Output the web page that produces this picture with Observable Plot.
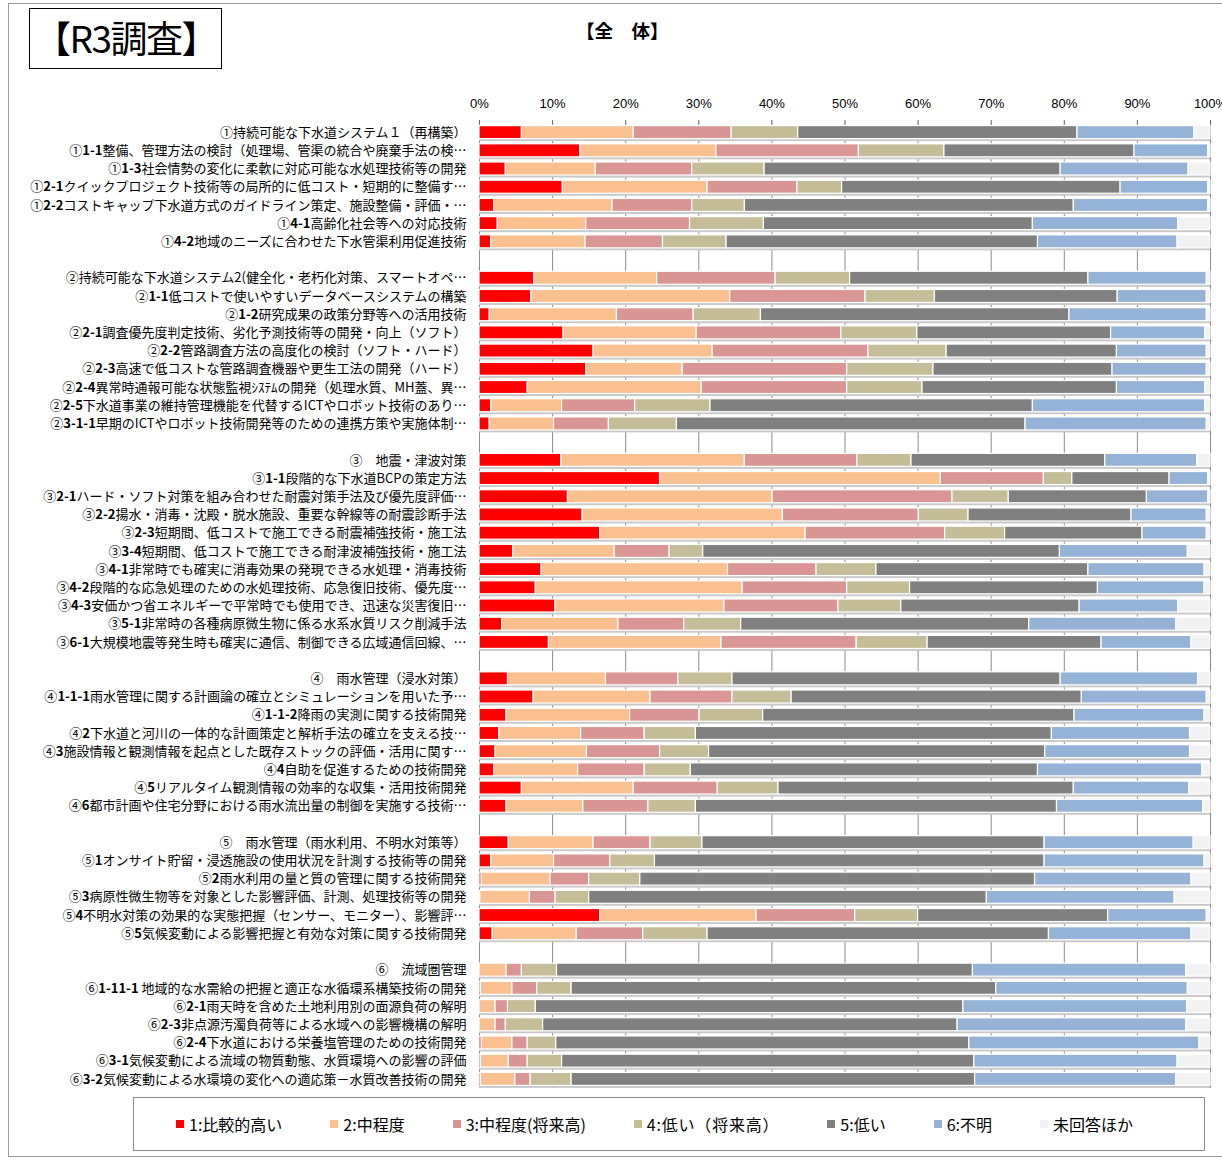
<!DOCTYPE html>
<html lang="ja">
<head>
<meta charset="utf-8">
<script src="https://cdn.jsdelivr.net/npm/d3@7"></script>
<script src="https://cdn.jsdelivr.net/npm/@observablehq/plot@0.6"></script>
<style>
  body { margin: 0; background: #fff; font-family: "Noto Sans CJK JP", sans-serif; color: #000; }
  #page { position: relative; width: 1222px; height: 1160px; overflow: hidden; background: #fff; }
  #frame { position: absolute; left: 8px; top: 3px; width: 1240px; height: 1154px; border: 1px solid #9a9a9a; box-sizing: border-box; }
  #badge { position: absolute; left: 29px; top: 8px; width: 193px; height: 61px; border: 1.5px solid #000; box-sizing: border-box;
           font-size: 37px; line-height: 57px; padding-left: 4px; letter-spacing: -1.5px; white-space: nowrap; }
  #title { position: absolute; left: 576px; top: 17px; font-weight: bold; font-size: 18.5px; }
  #chart { position: absolute; left: 0; top: 80px; }
  #chart svg { display: block; }
  #legend { position: absolute; left: 133px; top: 1097px; width: 1072px; height: 54px; border: 1px solid #8a8a8a; box-sizing: border-box;
            display: flex; align-items: center; padding-left: 42px; font-size: 16px; }
  #legend .item { display: flex; align-items: center; white-space: nowrap; margin-right: 48px; }
  #legend .item:nth-child(4) { letter-spacing: 0.8px; }
  #legend .sw { width: 8px; height: 8px; margin-right: 5px; }
</style>
</head>
<body>
<div id="page">
  <div id="frame"></div>
  <div id="badge">【R3調査】</div>
  <div id="title">【全　体】</div>
  <div id="chart"></div>
  <div id="legend"></div>
</div>
<script>
// Response categories and their colours
const categories = ["1:比較的高い", "2:中程度", "3:中程度(将来高)", "4:低い（将来高）", "5:低い", "6:不明", "未回答ほか"];
const palette = ["#ff0000", "#fac090", "#d99694", "#c4bd97", "#808080", "#95b3d7", "#f2f2f2"];

// Number of rows in each theme group (a blank row separates groups)
const groupSizes = [7, 9, 11, 8, 6, 7];

// Row labels, top to bottom
const rowLabels = [
  "①持続可能な下水道システム１（再構築）",
  "①1-1整備、管理方法の検討（処理場、管渠の統合や廃棄手法の検…",
  "①1-3社会情勢の変化に柔軟に対応可能な水処理技術等の開発",
  "①2-1クイックプロジェクト技術等の局所的に低コスト・短期的に整備す…",
  "①2-2コストキャップ下水道方式のガイドライン策定、施設整備・評価・…",
  "①4-1高齢化社会等への対応技術",
  "①4-2地域のニーズに合わせた下水管渠利用促進技術",
  "②持続可能な下水道システム2(健全化・老朽化対策、スマートオペ…",
  "②1-1低コストで使いやすいデータベースシステムの構築",
  "②1-2研究成果の政策分野等への活用技術",
  "②2-1調査優先度判定技術、劣化予測技術等の開発・向上（ソフト）",
  "②2-2管路調査方法の高度化の検討（ソフト・ハード）",
  "②2-3高速で低コストな管路調査機器や更生工法の開発（ハード）",
  "②2-4異常時通報可能な状態監視ｼｽﾃﾑの開発（処理水質、MH蓋、異…",
  "②2-5下水道事業の維持管理機能を代替するICTやロボット技術のあり…",
  "②3-1-1早期のICTやロボット技術開発等のための連携方策や実施体制…",
  "③　地震・津波対策",
  "③1-1段階的な下水道BCPの策定方法",
  "③2-1ハード・ソフト対策を組み合わせた耐震対策手法及び優先度評価…",
  "③2-2揚水・消毒・沈殿・脱水施設、重要な幹線等の耐震診断手法",
  "③2-3短期間、低コストで施工できる耐震補強技術・施工法",
  "③3-4短期間、低コストで施工できる耐津波補強技術・施工法",
  "③4-1非常時でも確実に消毒効果の発現できる水処理・消毒技術",
  "③4-2段階的な応急処理のための水処理技術、応急復旧技術、優先度…",
  "③4-3安価かつ省エネルギーで平常時でも使用でき、迅速な災害復旧…",
  "③5-1非常時の各種病原微生物に係る水系水質リスク削減手法",
  "③6-1大規模地震等発生時も確実に通信、制御できる広域通信回線、…",
  "④　雨水管理（浸水対策）",
  "④1-1-1雨水管理に関する計画論の確立とシミュレーションを用いた予…",
  "④1-1-2降雨の実測に関する技術開発",
  "④2下水道と河川の一体的な計画策定と解析手法の確立を支える技…",
  "④3施設情報と観測情報を起点とした既存ストックの評価・活用に関す…",
  "④4自助を促進するための技術開発",
  "④5リアルタイム観測情報の効率的な収集・活用技術開発",
  "④6都市計画や住宅分野における雨水流出量の制御を実施する技術…",
  "⑤　雨水管理（雨水利用、不明水対策等）",
  "⑤1オンサイト貯留・浸透施設の使用状況を計測する技術等の開発",
  "⑤2雨水利用の量と質の管理に関する技術開発",
  "⑤3病原性微生物等を対象とした影響評価、計測、処理技術等の開発",
  "⑤4不明水対策の効果的な実態把握（センサー、モニター）、影響評…",
  "⑤5気候変動による影響把握と有効な対策に関する技術開発",
  "⑥　流域圏管理",
  "⑥1-11-1 地域的な水需給の把握と適正な水循環系構築技術の開発",
  "⑥2-1雨天時を含めた土地利用別の面源負荷の解明",
  "⑥2-3非点源汚濁負荷等による水域への影響機構の解明",
  "⑥2-4下水道における栄養塩管理のための技術開発",
  "⑥3-1気候変動による流域の物質動態、水質環境への影響の評価",
  "⑥3-2気候変動による水環境の変化への適応策－水質改善技術の開発"
];

// Share of responses (%) per category, one value per row
const high = [5.8,13.8,3.6,11.4,2.0,2.5,1.6, 7.5,7.1,1.4,11.5,15.6,14.6,6.6,1.6,1.4, 11.2,24.7,12.1,14.1,16.5,4.6,8.5,7.7,10.4,3.1,9.5, 3.9,7.4,3.7,2.7,2.2,2.0,5.8,3.7, 4.0,1.6,0.3,0.1,16.5,1.8, 0,0.2,0,0,0.3,0.2,0.2];
const mid = [15.3,18.6,12.3,19.8,16.2,12.1,12.9, 16.8,27.2,17.4,18.2,16.3,13.2,23.8,9.7,8.8, 25.1,38.4,28.0,27.4,28.1,13.9,25.5,28.3,23.1,15.9,23.6, 13.4,16.0,16.9,11.2,12.5,11.5,15.3,10.5, 11.6,8.6,9.4,6.8,21.4,11.5, 3.7,4.3,2.2,2.2,4.2,3.8,4.7];
const midFuture = [13.4,19.5,13.2,12.3,10.9,14.2,10.6, 16.2,18.5,10.5,19.8,21.3,22.5,19.9,10.0,7.5, 15.4,14.1,24.6,18.6,19.1,7.5,12.1,14.3,15.6,9.0,18.5, 9.9,11.2,9.5,8.7,10.0,9.1,11.5,8.9, 7.8,7.7,5.3,3.5,13.5,9.1, 2.1,3.4,1.7,1.4,2.1,2.6,2.1];
const lowFuture = [9.1,11.7,9.9,6.1,7.2,10.1,8.7, 10.2,9.5,9.2,10.4,10.7,11.8,10.3,10.3,9.3, 7.4,3.9,7.7,6.8,8.2,4.6,8.2,8.6,8.6,7.8,9.7, 7.4,8.1,8.7,7.0,6.7,6.3,8.3,6.5, 7.1,6.1,7.0,4.6,8.6,8.8, 4.8,4.7,3.8,5.1,3.9,4.7,5.6];
const low = [38.2,26.0,40.5,38.1,45.0,36.8,42.6, 32.6,25.0,42.2,26.5,23.3,24.5,26.6,44.1,47.7, 26.5,13.3,18.9,22.3,18.8,48.8,29.0,25.7,24.4,39.4,23.8, 44.9,39.7,42.6,48.7,46.0,47.5,40.4,49.4, 46.8,53.3,54.0,54.4,26.0,46.7, 56.9,58.1,58.5,56.7,56.5,56.4,55.2];
const unknown = [16.0,10.1,17.5,12.0,18.4,19.9,19.1, 16.2,12.2,18.8,12.9,12.3,12.9,12.1,23.6,24.8, 12.6,5.3,8.4,10.3,8.8,17.5,15.9,14.6,13.5,20.1,12.3, 18.8,17.1,17.8,18.9,19.8,22.5,15.8,20.0, 20.4,21.9,21.4,25.7,13.5,19.5, 29.2,26.2,30.6,31.3,31.5,27.8,27.5];
const noAnswer = [2.2,0.3,3.0,0.3,0.3,4.4,4.5, 0.5,0.5,0.5,0.7,0.5,0.5,0.7,0.7,0.5, 1.8,0.3,0.3,0.5,0.5,3.1,0.8,0.8,4.4,4.7,2.6, 1.7,0.5,0.8,2.8,2.8,1.1,2.9,1.0, 2.3,0.8,2.6,4.9,0.5,2.6, 3.3,3.1,3.2,3.3,1.5,4.5,4.7];

// Tick values of the percentage axis
const xTicks = [0, 10, 20, 30, 40, 50, 60, 70, 80, 90, 100];

const series = [high, mid, midFuture, lowFuture, low, unknown, noAnswer];

// Band domain: row keys with one blank key between groups
const rowKeys = rowLabels.map((_, i) => "r" + i);
const domain = [];
let idx = 0;
groupSizes.forEach((n, g) => {
  for (let k = 0; k < n; k++) domain.push(rowKeys[idx++]);
  if (g < groupSizes.length - 1) domain.push("gap" + g);
});
const labelOf = Object.fromEntries(rowKeys.map((k, i) => [k, rowLabels[i]]));

// Long table for stacking
const table = [];
rowKeys.forEach((key, i) => {
  categories.forEach((cat, c) => table.push({key, cat, value: series[c][i]}));
});

const font = "'Noto Sans CJK JP', sans-serif";
const inset = 2.6;

const plot = Plot.plot({
  width: 1222,
  height: 1012,
  marginLeft: 479,
  marginRight: 12,
  marginTop: 43,
  marginBottom: 4,
  style: {fontFamily: font, color: "#000", background: "transparent"},
  x: {domain: [0, 100], axis: null},
  y: {domain, padding: 0, round: false, axis: null},
  color: {domain: categories, range: palette},
  marks: [
    Plot.ruleX(xTicks, {stroke: "#8c8c8c", strokeWidth: 1}),
    // soft drop shadow under each bar
    Plot.barX(rowKeys, {x1: 0, x2: 100, y: d => d, fill: "#c9c9c9", dy: 2.5, insetTop: inset, insetBottom: inset}),
    Plot.barX(table, Plot.stackX({
      x: "value", y: "key", fill: "cat",
      stroke: "white", strokeWidth: 1.2,
      insetTop: inset, insetBottom: inset
    })),
    Plot.axisX(xTicks, {
      anchor: "top", tickSize: 4, tickPadding: 12, label: null,
      tickFormat: d => d + "%", stroke: "#666",
      fontSize: 13, fontFamily: "'Liberation Sans Narrow', 'Liberation Sans', sans-serif"
    }),
    Plot.axisY({
      tickSize: 0, tickPadding: 13, label: null,
      tickFormat: k => labelOf[k] ?? "",
      fontSize: 13, fontFamily: font
    })
  ]
});

// Item numbers in the row labels are set in bold
d3.select(plot).selectAll('g[aria-label="y-axis tick label"] text').each(function () {
  const s = this.textContent;
  const m = s.match(/^([①-⑥])([0-9][0-9\-]*)(.*)$/);
  if (!m) return;
  const t = d3.select(this);
  t.text("");
  t.append("tspan").text(m[1]);
  t.append("tspan").attr("font-weight", "bold").text(m[2]);
  t.append("tspan").text(m[3]);
});

document.getElementById("chart").append(plot);

// Legend
const legend = d3.select("#legend");
categories.forEach((cat, c) => {
  const item = legend.append("div").attr("class", "item");
  item.append("div").attr("class", "sw").style("background", palette[c]);
  item.append("span").text(cat);
});
</script>
</body>
</html>
